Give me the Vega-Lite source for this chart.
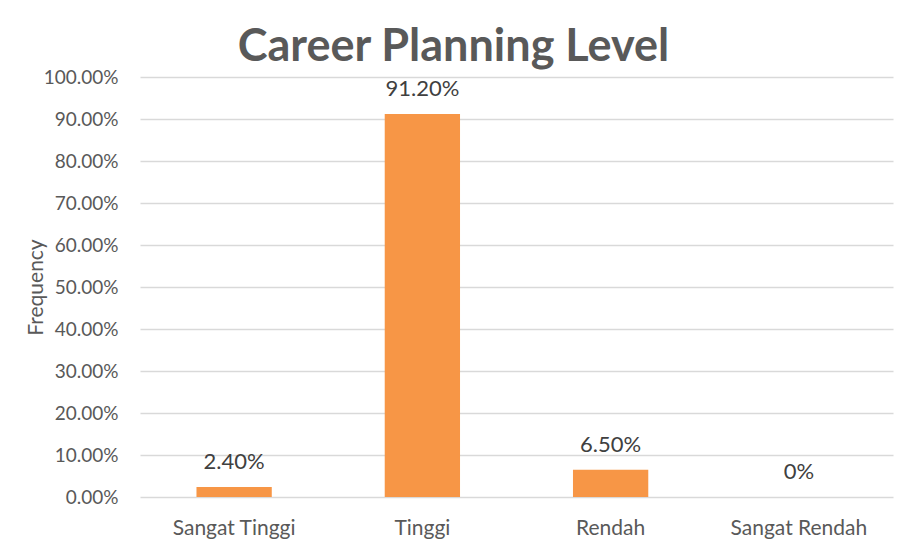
{
  "$schema": "https://vega.github.io/schema/vega-lite/v6.json",
  "width": 753,
  "height": 420,
  "autosize": {"type": "none"},
  "padding": {"left": 140, "top": 77, "right": 18, "bottom": 54},
  "background": "white",
  "title": {
    "text": "Career Planning Level",
    "font": "Lato",
    "fontSize": 45,
    "fontWeight": "bold",
    "color": "#595959",
    "anchor": "middle",
    "dx": -63,
    "offset": -2
  },
  "data": {
    "values": [
      {"level": "Sangat Tinggi", "value": 0.024, "label": "2.40%"},
      {"level": "Tinggi", "value": 0.912, "label": "91.20%"},
      {"level": "Rendah", "value": 0.065, "label": "6.50%"},
      {"level": "Sangat Rendah", "value": 0.0, "label": "0%"}
    ]
  },
  "encoding": {
    "x": {
      "field": "level",
      "type": "nominal",
      "sort": null,
      "scale": {"paddingInner": 0.6, "paddingOuter": 0.3},
      "axis": {
        "title": null,
        "domain": false,
        "ticks": false,
        "labelAngle": 0,
        "labelFont": "Lato",
        "labelFontSize": 21,
        "labelColor": "#595959",
        "labelPadding": 20
      }
    },
    "y": {
      "field": "value",
      "type": "quantitative",
      "scale": {"domain": [0, 1]},
      "axis": {
        "title": "Frequency",
        "titleFont": "Lato",
        "titleFontSize": 21,
        "titleFontWeight": "normal",
        "titleColor": "#595959",
        "titlePadding": -3,
        "values": [0, 0.1, 0.2, 0.3, 0.4, 0.5, 0.6, 0.7, 0.8, 0.9, 1.0],
        "format": ".2%",
        "domain": false,
        "ticks": false,
        "labelFont": "Lato",
        "labelFontSize": 19,
        "labelColor": "#595959",
        "labelPadding": 22,
        "grid": true,
        "gridColor": "#D9D9D9",
        "gridWidth": 1.5
      }
    }
  },
  "layer": [
    {"mark": {"type": "bar", "color": "#F79646"}},
    {
      "mark": {
        "type": "text",
        "baseline": "bottom",
        "dy": -13,
        "font": "Lato",
        "fontSize": 22,
        "color": "#404040"
      },
      "encoding": {"text": {"field": "label"}}
    }
  ],
  "config": {"view": {"stroke": null}}
}
